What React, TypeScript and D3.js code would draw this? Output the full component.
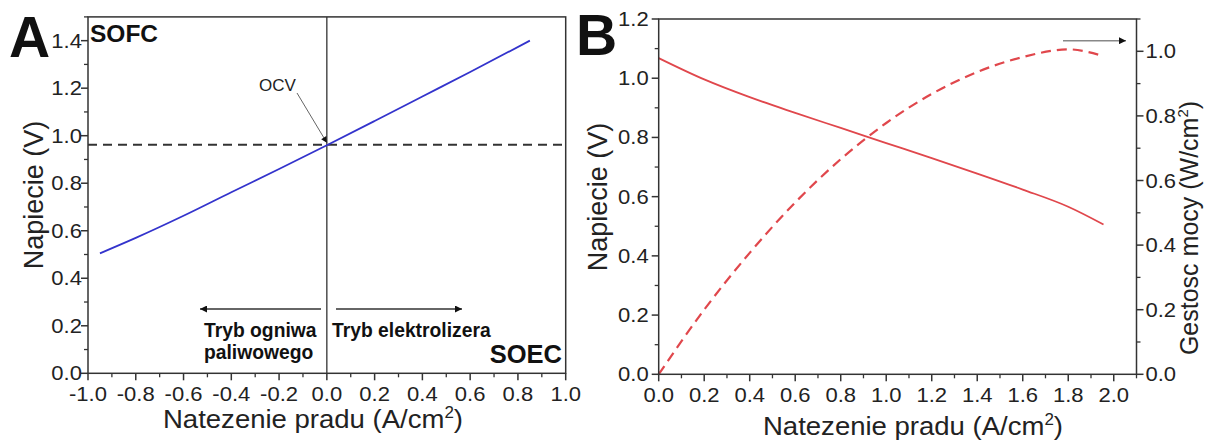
import React from "react";
import * as d3 from "d3";

// Panel A: SOFC / SOEC polarization curve
const aCurrent = [-0.95, -0.8, -0.6, -0.4, -0.2, 0.0, 0.2, 0.4, 0.6, 0.85];
const aVoltage = [0.505, 0.57, 0.663, 0.762, 0.86, 0.96, 1.062, 1.165, 1.268, 1.4];
const ocv = 0.962;
const aXTicks = [-1.0, -0.8, -0.6, -0.4, -0.2, 0.0, 0.2, 0.4, 0.6, 0.8, 1.0];
const aYTicks = [0.0, 0.2, 0.4, 0.6, 0.8, 1.0, 1.2, 1.4];

// Panel B: fuel cell voltage and power density
const bCurrent = [0.0, 0.2, 0.4, 0.6, 0.8, 1.0, 1.2, 1.4, 1.6, 1.8, 1.955];
const bVoltage = [1.068, 0.996, 0.936, 0.883, 0.832, 0.781, 0.73, 0.678, 0.624, 0.566, 0.506];
const bPower = [0.0, 0.2, 0.376, 0.532, 0.666, 0.778, 0.868, 0.936, 0.982, 1.006, 0.985];
const bXTicks = [0.0, 0.2, 0.4, 0.6, 0.8, 1.0, 1.2, 1.4, 1.6, 1.8, 2.0];
const bYTicks = [0.0, 0.2, 0.4, 0.6, 0.8, 1.0, 1.2];
const bY2Ticks = [0.0, 0.2, 0.4, 0.6, 0.8, 1.0];

const FONT = "'Liberation Sans', Arial, Helvetica, sans-serif";
const AXIS = "#333";
const TXT = "#222";
const BLUE = "#3333cc";
const RED = "#e0474c";

const fmt = (v: number) => v.toFixed(1);

function minorTicks(lo: number, hi: number, step: number) {
  const out: number[] = [];
  const n = Math.round((hi - lo) / step);
  for (let i = 0; i <= n; i++) out.push(+(lo + i * step).toFixed(3));
  return out;
}

function TickText({ x, y, anchor, children }: { x: number; y: number; anchor: string; children: any }) {
  return (
    <text
      transform={`translate(${x},${y}) scale(1.13,1)`}
      textAnchor={anchor}
      fontFamily={FONT}
      fontSize={19.5}
      fill={TXT}
    >
      {children}
    </text>
  );
}

export default function App() {
  const xA = d3.scaleLinear().domain([-1, 1]).range([88, 565.7]);
  const yA = d3.scaleLinear().domain([0, 1.5]).range([373.3, 16.9]);
  const xB = d3.scaleLinear().domain([0, 2.1]).range([658.7, 1136.5]);
  const yB = d3.scaleLinear().domain([0, 1.2]).range([374.3, 19]);
  const yB2 = d3.scaleLinear().domain([0, 1.1]).range([374.3, 19]);

  const lineA = d3
    .line<number>()
    .x((_, i) => xA(aCurrent[i]))
    .y((d) => yA(d))
    .curve(d3.curveMonotoneX);
  const lineBV = d3
    .line<number>()
    .x((_, i) => xB(bCurrent[i]))
    .y((d) => yB(d))
    .curve(d3.curveMonotoneX);
  const lineBP = d3
    .line<number>()
    .x((_, i) => xB(bCurrent[i]))
    .y((d) => yB2(d))
    .curve(d3.curveMonotoneX);

  const title = { fontFamily: FONT, fontSize: 26, fill: TXT } as const;

  const aXMinor = minorTicks(-0.9, 0.9, 0.2);
  const aYMinor = minorTicks(0.1, 1.5, 0.2);
  const bXMinor = minorTicks(0.1, 2.1, 0.2);
  const bYMinor = minorTicks(0.1, 1.1, 0.2);
  const bY2Minor = minorTicks(0.1, 1.1, 0.2);

  return (
    <svg
      width={1205}
      height={441}
      style={{ position: "absolute", left: 0, top: 0, background: "#fff" }}
    >
      <defs>
        <marker
          id="ah"
          viewBox="0 0 10 10"
          refX={10}
          refY={5}
          markerWidth={9}
          markerHeight={7}
          markerUnits="userSpaceOnUse"
          orient="auto"
        >
          <path d="M0,0 L10,5 L0,10 z" fill="#111" />
        </marker>
        <marker
          id="ahs"
          viewBox="0 0 10 10"
          refX={10}
          refY={5}
          markerWidth={8}
          markerHeight={6}
          markerUnits="userSpaceOnUse"
          orient="auto"
        >
          <path d="M0,0 L10,5 L0,10 z" fill="#111" />
        </marker>
      </defs>

      {/* ================= PANEL A ================= */}
      <g>
        <line
          x1={xA(-1)}
          x2={xA(1)}
          y1={yA(ocv)}
          y2={yA(ocv)}
          stroke="#333"
          strokeWidth={2}
          strokeDasharray="9 6"
        />
        <line x1={xA(0)} x2={xA(0)} y1={yA(1.5)} y2={yA(0)} stroke="#222" strokeWidth={1.2} />
        <path d={lineA(aVoltage) || ""} fill="none" stroke={BLUE} strokeWidth={1.8} />

        <rect
          x={xA(-1)}
          y={yA(1.5)}
          width={xA(1) - xA(-1)}
          height={yA(0) - yA(1.5)}
          fill="none"
          stroke={AXIS}
          strokeWidth={1.5}
        />
        {aXTicks.map((t) => (
          <g key={"ax" + t}>
            <line x1={xA(t)} x2={xA(t)} y1={yA(0)} y2={yA(0) + 7} stroke={AXIS} strokeWidth={1.5} />
            <TickText x={xA(t)} y={401} anchor="middle">
              {fmt(t)}
            </TickText>
          </g>
        ))}
        {aXMinor.map((t) => (
          <line key={"axm" + t} x1={xA(t)} x2={xA(t)} y1={yA(0)} y2={yA(0) + 4} stroke={AXIS} strokeWidth={1.3} />
        ))}
        {aYTicks.map((t) => (
          <g key={"ay" + t}>
            <line x1={xA(-1) - 7} x2={xA(-1)} y1={yA(t)} y2={yA(t)} stroke={AXIS} strokeWidth={1.5} />
            <TickText x={xA(-1) - 6} y={yA(t) + 7} anchor="end">
              {fmt(t)}
            </TickText>
          </g>
        ))}
        {aYMinor.map((t) => (
          <line key={"aym" + t} x1={xA(-1) - 4} x2={xA(-1)} y1={yA(t)} y2={yA(t)} stroke={AXIS} strokeWidth={1.3} />
        ))}

        <text x={313} y={428} textAnchor="middle" {...title} textLength={300} lengthAdjust="spacingAndGlyphs">
          Natezenie pradu (A/cm
          <tspan dy={-10} fontSize={16}>2</tspan>
          <tspan dy={10}>)</tspan>
        </text>
        <text transform={`translate(43,195) rotate(-90)`} textAnchor="middle" {...title} fontSize={27}>
          Napiecie (V)
        </text>

        <text x={9} y={57} fontFamily={FONT} fontSize={57} fontWeight="bold" fill="#111">
          A
        </text>
        <text x={90} y={42} fontFamily={FONT} fontSize={24.5} fontWeight="bold" fill="#111">
          SOFC
        </text>
        <text x={562} y={363} textAnchor="end" fontFamily={FONT} fontSize={25.5} fontWeight="bold" fill="#111">
          SOEC
        </text>
        <text x={259} y={91} fontFamily={FONT} fontSize={17} fill={TXT}>
          OCV
        </text>
        <line
          x1={297}
          y1={93}
          x2={xA(0)}
          y2={yA(ocv) - 2}
          stroke="#666"
          strokeWidth={1}
          markerEnd="url(#ahs)"
        />
        <line x1={321} y1={309} x2={200} y2={309} stroke="#333" strokeWidth={1.6} markerEnd="url(#ah)" />
        <line x1={336} y1={309} x2={462} y2={309} stroke="#333" strokeWidth={1.6} markerEnd="url(#ah)" />
        <text x={204} y={337} fontFamily={FONT} fontSize={19.3} fontWeight="bold" fill="#111">
          Tryb ogniwa
        </text>
        <text x={204} y={359} fontFamily={FONT} fontSize={19.3} fontWeight="bold" fill="#111">
          paliwowego
        </text>
        <text x={332} y={337} fontFamily={FONT} fontSize={19.3} fontWeight="bold" fill="#111">
          Tryb elektrolizera
        </text>
      </g>

      {/* ================= PANEL B ================= */}
      <g>
        <path d={lineBV(bVoltage) || ""} fill="none" stroke={RED} strokeWidth={1.8} />
        <path
          d={lineBP(bPower) || ""}
          fill="none"
          stroke={RED}
          strokeWidth={2.2}
          strokeDasharray="10 6"
        />

        <rect
          x={xB(0)}
          y={yB(1.2)}
          width={xB(2.1) - xB(0)}
          height={yB(0) - yB(1.2)}
          fill="none"
          stroke={AXIS}
          strokeWidth={1.5}
        />
        {bXTicks.map((t) => (
          <g key={"bx" + t}>
            <line x1={xB(t)} x2={xB(t)} y1={yB(0)} y2={yB(0) + 7} stroke={AXIS} strokeWidth={1.5} />
            <TickText x={xB(t)} y={402} anchor="middle">
              {fmt(t)}
            </TickText>
          </g>
        ))}
        {bXMinor.map((t) => (
          <line key={"bxm" + t} x1={xB(t)} x2={xB(t)} y1={yB(0)} y2={yB(0) + 4} stroke={AXIS} strokeWidth={1.3} />
        ))}
        {bYTicks.map((t) => (
          <g key={"by" + t}>
            <line x1={xB(0) - 7} x2={xB(0)} y1={yB(t)} y2={yB(t)} stroke={AXIS} strokeWidth={1.5} />
            <TickText x={xB(0) - 10} y={yB(t) + 7} anchor="end">
              {fmt(t)}
            </TickText>
          </g>
        ))}
        {bYMinor.map((t) => (
          <line key={"bym" + t} x1={xB(0) - 4} x2={xB(0)} y1={yB(t)} y2={yB(t)} stroke={AXIS} strokeWidth={1.3} />
        ))}
        {bY2Ticks.map((t) => (
          <g key={"by2" + t}>
            <line x1={xB(2.1)} x2={xB(2.1) + 7} y1={yB2(t)} y2={yB2(t)} stroke={AXIS} strokeWidth={1.5} />
            <TickText x={xB(2.1) + 9} y={yB2(t) + 7} anchor="start">
              {fmt(t)}
            </TickText>
          </g>
        ))}
        {bY2Minor.map((t) => (
          <line key={"by2m" + t} x1={xB(2.1)} x2={xB(2.1) + 4} y1={yB2(t)} y2={yB2(t)} stroke={AXIS} strokeWidth={1.3} />
        ))}

        <text x={913} y={435} textAnchor="middle" {...title} textLength={300} lengthAdjust="spacingAndGlyphs">
          Natezenie pradu (A/cm
          <tspan dy={-10} fontSize={16}>2</tspan>
          <tspan dy={10}>)</tspan>
        </text>
        <text transform={`translate(607,197) rotate(-90)`} textAnchor="middle" {...title} fontSize={27}>
          Napiecie (V)
        </text>
        <text transform={`translate(1198,228) rotate(-90)`} textAnchor="middle" {...title} fontSize={25}>
          Gestosc mocy (W/cm
          <tspan dy={-10} fontSize={15}>2</tspan>
          <tspan dy={10}>)</tspan>
        </text>

        <text x={576} y={55} fontFamily={FONT} fontSize={57} fontWeight="bold" fill="#111">
          B
        </text>
        <line x1={1063} y1={40.7} x2={1126} y2={40.7} stroke="#888" strokeWidth={1.5} markerEnd="url(#ah)" />
      </g>
    </svg>
  );
}
